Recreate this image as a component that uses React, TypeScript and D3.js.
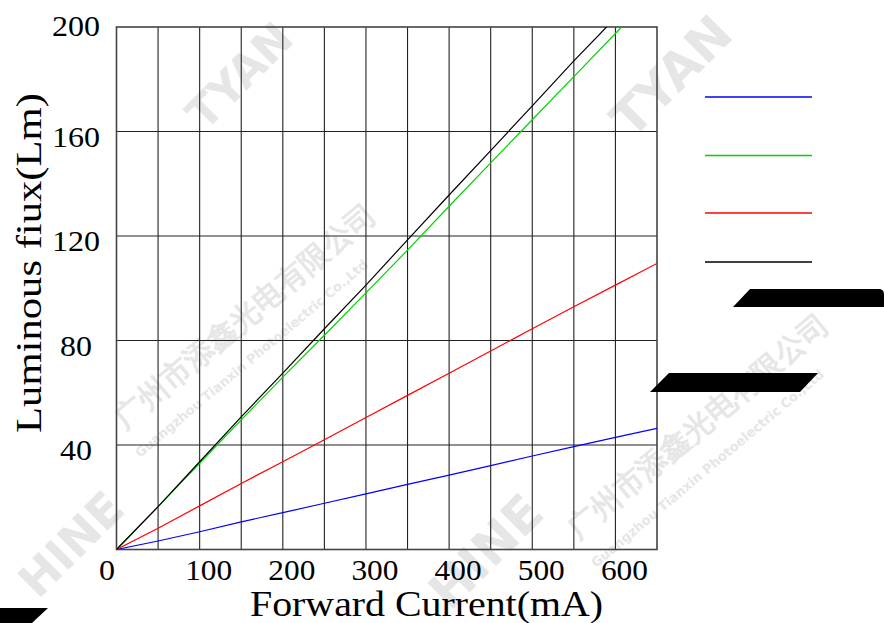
import React from "react";
import * as d3 from "d3";

const currents = [0, 50, 100, 150, 200, 250, 300, 350, 400, 450, 500, 550, 600, 650];
const blueVals = [0, 3.25, 6.8, 10.6, 14.1, 17.7, 21.3, 24.9, 28.5, 32.1, 35.8, 39.4, 42.9, 46.4];
const greenVals = [0, 16.4, 33.0, 49.6, 66, 82, 98.2, 114.6, 131.4, 148, 164.5, 181, 197.5, 214];
const redVals = [0, 8.1, 16.7, 25.3, 33.6, 42, 50.5, 59, 67.5, 76, 84.5, 92.9, 101.2, 109.5];
const blackVals = [0, 16.4, 33.6, 50.8, 67.5, 84.5, 101.2, 118.5, 135.7, 152.7, 169.8, 187, 203.5, 220.5];

const xTicks = [0, 100, 200, 300, 400, 500, 600];
const yTicks = [40, 80, 120, 160, 200];
const xGrid = [50, 100, 150, 200, 250, 300, 350, 400, 450, 500, 550, 600];
const yGrid = [40, 80, 120, 160];

const series = [
  { name: "blue", color: "#0000ff", values: blueVals },
  { name: "green", color: "#00d400", values: greenVals },
  { name: "red", color: "#ff0000", values: redVals },
  { name: "black", color: "#000000", values: blackVals },
];
const legendY = [97, 155.5, 213, 262];

const serif = "'Liberation Serif', 'Times New Roman', serif";

export default function App() {
  const x = d3.scaleLinear().domain([0, 650]).range([116.5, 657]);
  const y = d3.scaleLinear().domain([0, 200]).range([549.5, 27]);
  const line = d3
    .line<number>()
    .x((_, i) => x(currents[i]))
    .y((d) => y(d));

  const wmStyle = { fill: "#e6e6e6", fontFamily: "'DejaVu Sans', sans-serif", fontWeight: 700 } as const;

  return (
    <svg width={884} height={623} style={{ position: "absolute", left: 0, top: 0, background: "#fff" }}>
      <defs>
        <clipPath id="plot">
          <rect x={x(0)} y={y(200)} width={x(650) - x(0)} height={y(0) - y(200)} />
        </clipPath>
      </defs>
      <rect width={884} height={623} fill="#fff" />
      {/* watermarks (visible fragments) */}
      <g>
        <text transform="translate(205,132) rotate(-45)" fontSize={44} style={wmStyle}>TYAN</text>
        <text transform="translate(632,140) rotate(-45)" fontSize={50} style={wmStyle}>TYAN</text>
        <text transform="translate(38,600) rotate(-45)" fontSize={46} style={wmStyle}>HINE</text>
        <text transform="translate(450,612) rotate(-45)" fontSize={50} style={wmStyle}>HINE</text>
        <text transform="translate(125,430) rotate(-40)" fontSize={30} style={wmStyle}>广州市添鑫光电有限公司</text>
        <text transform="translate(140,458) rotate(-40)" fontSize={13} style={wmStyle}>Guangzhou Tianxin Photoelectric Co.,Ltd</text>
        <text transform="translate(578,540) rotate(-40)" fontSize={30} style={wmStyle}>广州市添鑫光电有限公司</text>
        <text transform="translate(596,568) rotate(-40)" fontSize={13} style={wmStyle}>Guangzhou Tianxin Photoelectric Co.,Ltd</text>
      </g>
      {/* grid */}
      <g stroke="#222" strokeWidth={1.1}>
        {xGrid.map((v) => (
          <line key={"gx" + v} x1={x(v)} x2={x(v)} y1={y(0)} y2={y(200)} />
        ))}
        {yGrid.map((v) => (
          <line key={"gy" + v} x1={x(0)} x2={x(650)} y1={y(v)} y2={y(v)} />
        ))}
      </g>
      <rect
        x={x(0)}
        y={y(200)}
        width={x(650) - x(0)}
        height={y(0) - y(200)}
        fill="none"
        stroke="#444"
        strokeWidth={1.6}
      />
      {/* data lines */}
      <g clipPath="url(#plot)" fill="none">
        {series.map((s) => (
          <path key={s.name} d={line(s.values) || ""} stroke={s.color} strokeWidth={1.2} />
        ))}
      </g>
      {/* legend */}
      {series.map((s, i) => (
        <line key={"lg" + s.name} x1={705} x2={812} y1={legendY[i]} y2={legendY[i]} stroke={s.color} strokeWidth={1.3} />
      ))}
      {/* x tick labels */}
      <g fontFamily={serif} fontSize={30} textAnchor="middle" fill="#000">
        {xTicks.map((v) => (
          <text
            key={"xt" + v}
            x={x(v) + (v === 0 ? -9.5 : 9)}
            y={580}
            textLength={v === 0 ? 16 : 47}
            lengthAdjust="spacingAndGlyphs"
          >
            {v}
          </text>
        ))}
      </g>
      {/* y tick labels */}
      <g fontFamily={serif} fontSize={30} textAnchor="middle" fill="#000">
        {yTicks.map((v) => (
          <text
            key={"yt" + v}
            x={76}
            y={y(v) + (v === 200 ? 9 : 15)}
            textLength={String(v).length * 16}
            lengthAdjust="spacingAndGlyphs"
          >
            {v}
          </text>
        ))}
      </g>
      {/* axis titles */}
      <text
        x={426.5}
        y={616}
        fontFamily={serif}
        fontSize={35}
        textAnchor="middle"
        textLength={353}
        lengthAdjust="spacingAndGlyphs"
      >
        Forward Current(mA)
      </text>
      <text
        transform="translate(41,263) rotate(-90)"
        fontFamily={serif}
        fontSize={36}
        textAnchor="middle"
        textLength={340}
        lengthAdjust="spacingAndGlyphs"
      >
        Luminous fiux(Lm)
      </text>
      {/* redaction blocks */}
      <path d="M750,289 L880,289 Q884,290 884,294 L884,307 L733,307 Z" fill="#000" />
      <path d="M669,373 L818,373 L800,392 L650,392 Z" fill="#000" />
      <path d="M0,608 L48,608 L32,623 L0,623 Z" fill="#000" />
    </svg>
  );
}
